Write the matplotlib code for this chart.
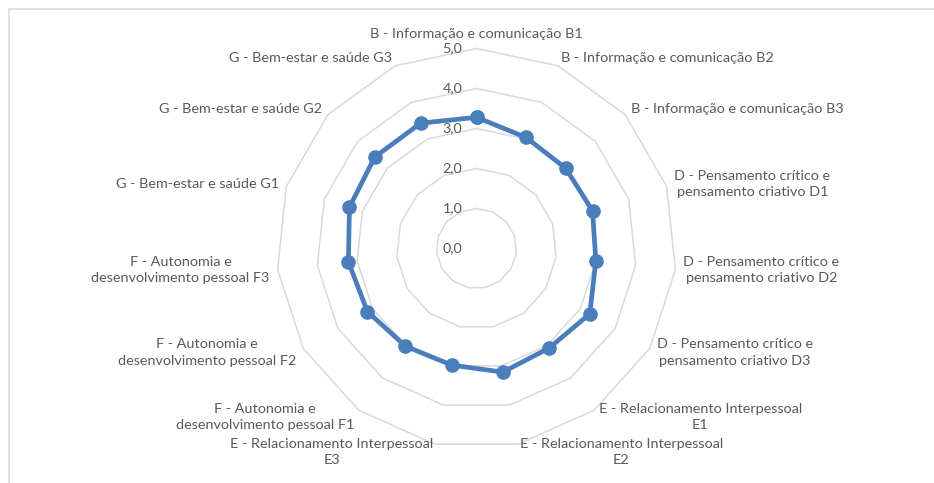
import numpy as np
import matplotlib
matplotlib.use("Agg")
import matplotlib.pyplot as plt
from matplotlib.patches import Rectangle

categories = [
    "B - Informação e comunicação B1",
    "B - Informação e comunicação B2",
    "B - Informação e comunicação B3",
    "D - Pensamento crítico e\npensamento criativo D1",
    "D - Pensamento crítico e\npensamento criativo D2",
    "D - Pensamento crítico e\npensamento criativo D3",
    "E - Relacionamento Interpessoal\nE1",
    "E - Relacionamento Interpessoal\nE2",
    "E - Relacionamento Interpessoal\nE3",
    "F - Autonomia e\ndesenvolvimento pessoal F1",
    "F - Autonomia e\ndesenvolvimento pessoal F2",
    "F - Autonomia e\ndesenvolvimento pessoal F3",
    "G - Bem-estar e saúde G1",
    "G - Bem-estar e saúde G2",
    "G - Bem-estar e saúde G3",
]
values = [3.28, 3.04, 3.00, 3.05, 3.00, 3.27, 3.08, 3.16, 2.98, 3.02, 3.15, 3.22, 3.34, 3.42, 3.43]
ring_values = [1.0, 2.0, 3.0, 4.0, 5.0]
tick_values = [0.0, 1.0, 2.0, 3.0, 4.0, 5.0]
tick_labels = ["0,0", "1,0", "2,0", "3,0", "4,0", "5,0"]

plt.rcParams['font.family'] = ['Lato', 'DejaVu Sans']
TXT = "#595959"
GRID = "#d9d9d9"
BLUE = "#4a7ebb"
FS = 10.4

W, H = 934, 483
fig = plt.figure(figsize=(W / 100, H / 100), dpi=100)
fig.patch.set_facecolor("white")

cx, cy, R = 476.5, 248.5, 200.0
ax = fig.add_axes([(cx - R) / W, (H - cy - R) / H, 2 * R / W, 2 * R / H], projection="polar")
ax.set_theta_zero_location("N")
ax.set_theta_direction(-1)
ax.set_ylim(0, 5)
ax.grid(False)
ax.set_xticks([])
ax.set_yticks([])
ax.spines["polar"].set_visible(False)
ax.patch.set_alpha(0)

n = len(categories)
angles = np.arange(n) * 2 * np.pi / n
closed = np.concatenate([angles, angles[:1]])

for r in ring_values:
    ax.plot(closed, [r] * (n + 1), color=GRID, lw=1.1, zorder=1, clip_on=False)

for v, t in zip(tick_values, tick_labels):
    ax.annotate(t, xy=(0, v), xytext=(-14, 0), textcoords="offset pixels",
                ha="right", va="center", fontsize=FS, color=TXT, annotation_clip=False)

vals = np.array(values)
ax.plot(closed, np.concatenate([vals, vals[:1]]), color=BLUE, lw=3.4,
        marker="o", markersize=9.5, zorder=3, clip_on=False)

gap = 8
for a, lab in zip(angles, categories):
    s, c = np.sin(a), np.cos(a)
    if s > 0.05:
        ha = "left"
    elif s < -0.05:
        ha = "right"
    else:
        ha = "center"
    va = "center"
    off = (gap * s, gap * c)
    if abs(s) <= 0.05:
        va = "bottom"
    ax.annotate(lab, xy=(a, 5.0), xytext=off, textcoords="offset pixels",
                ha=ha, va=va, multialignment="center", fontsize=FS, color=TXT,
                linespacing=1.45, annotation_clip=False)

fig.patches.append(Rectangle((9 / W, -0.05), 1.2, (H - 9) / H + 0.05,
                             transform=fig.transFigure, fill=False,
                             edgecolor=GRID, lw=1.2, zorder=0))

fig.savefig("out.png", dpi=100)
